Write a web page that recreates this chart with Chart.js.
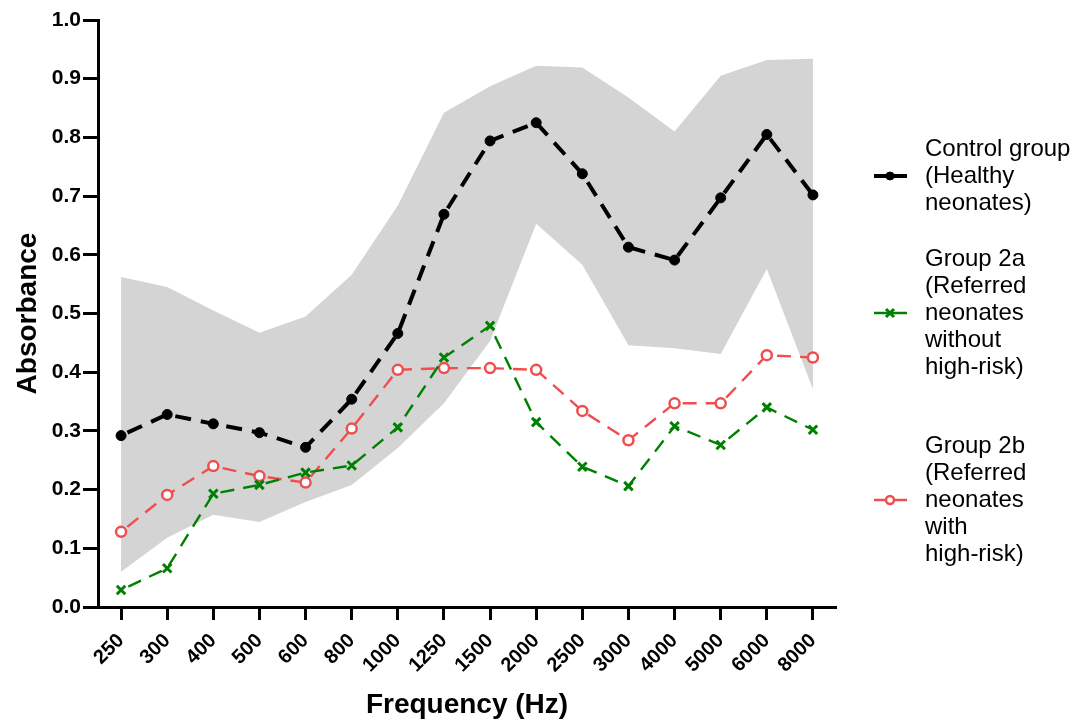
<!DOCTYPE html>
<html>
<head>
<meta charset="utf-8">
<script src="https://cdn.jsdelivr.net/npm/chart.js@4"></script>
<style>
  body { margin: 0; background: #fff; }
  #wrap { width: 1081px; height: 722px; }
</style>
</head>
<body>
<div id="wrap"><canvas id="lineChart"></canvas></div>
<script>
const freqLabels = ['250','300','400','500','600','800','1000','1250','1500','2000','2500','3000','4000','5000','6000','8000'];

const controlMean = [0.292,0.328,0.312,0.297,0.272,0.354,0.466,0.669,0.794,0.825,0.738,0.613,0.591,0.697,0.805,0.702];
const group2a     = [0.029,0.066,0.193,0.208,0.229,0.241,0.306,0.425,0.479,0.315,0.239,0.206,0.308,0.276,0.340,0.302];
const group2b     = [0.128,0.191,0.240,0.223,0.212,0.304,0.404,0.407,0.407,0.404,0.334,0.284,0.347,0.347,0.429,0.425];

// grey band of the control group (upper / lower limits)
const controlUpper = [0.562,0.545,0.505,0.467,0.495,0.566,0.684,0.842,0.887,0.922,0.919,0.868,0.810,0.905,0.932,0.934];
const controlLower = [0.060,0.118,0.157,0.145,0.179,0.208,0.271,0.347,0.453,0.653,0.583,0.446,0.441,0.431,0.576,0.371];

const legendText = [
  ['Control group', '(Healthy', 'neonates)'],
  ['Group 2a', '(Referred', 'neonates', 'without', 'high-risk)'],
  ['Group 2b', '(Referred', 'neonates', 'with', 'high-risk)']
];

const FONT = '"Liberation Sans", Arial, sans-serif';

// legend drawn beside the plot, text wraps over several lines
const sideLegend = {
  id: 'sideLegend',
  afterDraw(chart) {
    const ctx = chart.ctx;
    const right = chart.chartArea.right;
    const top = chart.chartArea.top;
    const markerY = [156, 293, 480];   // offset of each sample line from the plot top
    const lineGap = 27;
    ctx.save();
    ctx.font = '24px ' + FONT;
    ctx.fillStyle = '#000';
    ctx.textBaseline = 'middle';
    legendText.forEach((lines, i) => {
      const ds = chart.data.datasets[i];
      const cy = top + markerY[i];
      const mid = (lines.length - 1) / 2;
      lines.forEach((t, j) => {
        ctx.fillText(t, right + 89, cy + (j - mid) * lineGap);
      });
      // sample line + marker
      ctx.strokeStyle = ds.borderColor;
      ctx.lineWidth = ds.borderWidth;
      ctx.beginPath();
      ctx.moveTo(right + 38, cy);
      ctx.lineTo(right + 71, cy);
      ctx.stroke();
      const mx = right + 54;
      ctx.lineWidth = ds.pointBorderWidth;
      ctx.strokeStyle = ds.pointBorderColor;
      if (ds.pointStyle === 'crossRot') {
        ctx.beginPath();
        ctx.moveTo(mx - 4, cy - 4); ctx.lineTo(mx + 4, cy + 4);
        ctx.moveTo(mx - 4, cy + 4); ctx.lineTo(mx + 4, cy - 4);
        ctx.stroke();
      } else {
        ctx.beginPath();
        ctx.arc(mx, cy, ds.pointRadius - 1, 0, Math.PI * 2);
        ctx.fillStyle = ds.pointBackgroundColor;
        ctx.fill();
        ctx.stroke();
      }
    });
    ctx.restore();
  }
};

const myChart = new Chart(document.getElementById('lineChart'), {
  type: 'line',
  data: {
    labels: freqLabels,
    datasets: [
      {
        label: 'Control group (Healthy neonates)',
        data: controlMean,
        borderColor: '#000',
        borderWidth: 4,
        borderDash: [16, 10],
        borderDashOffset: -7,
        pointStyle: 'circle',
        pointRadius: 5,
        pointBackgroundColor: '#000',
        pointBorderColor: '#000',
        pointBorderWidth: 1,
        fill: false
      },
      {
        label: 'Group 2a (Referred neonates without high-risk)',
        data: group2a,
        borderColor: 'rgb(0,128,0)',
        borderWidth: 2.4,
        borderDash: [14, 9],
        borderDashOffset: -8,
        pointStyle: 'crossRot',
        pointRadius: 6,
        pointBorderColor: 'rgb(0,128,0)',
        pointBackgroundColor: 'rgb(0,128,0)',
        pointBorderWidth: 3,
        fill: false
      },
      {
        label: 'Group 2b (Referred neonates with high-risk)',
        data: group2b,
        borderColor: 'rgb(240,78,78)',
        borderWidth: 2.4,
        borderDash: [14, 9],
        borderDashOffset: -8,
        pointStyle: 'circle',
        pointRadius: 5,
        pointBackgroundColor: '#fff',
        pointBorderColor: 'rgb(240,78,78)',
        pointBorderWidth: 2.5,
        fill: false
      },
      {
        label: 'upper',
        data: controlUpper,
        borderWidth: 0,
        pointRadius: 0,
        backgroundColor: 'rgb(212,212,212)',
        fill: '+1'
      },
      {
        label: 'lower',
        data: controlLower,
        borderWidth: 0,
        pointRadius: 0,
        fill: false
      }
    ]
  },
  options: {
    responsive: true,
    maintainAspectRatio: false,
    animation: false,
    layout: { padding: { top: 20, right: 245, left: 0, bottom: 0 } },
    scales: {
      x: {
        offset: true,
        grid: { display: true, drawOnChartArea: false, offset: false, tickLength: 13, tickWidth: 3, tickColor: '#000' },
        border: { color: '#000', width: 3 },
        ticks: {
          color: '#000',
          font: { family: FONT, size: 20, weight: 'bold' },
          maxRotation: 45,
          minRotation: 45,
          padding: 9
        },
        title: {
          display: true,
          text: 'Frequency (Hz)',
          color: '#000',
          font: { family: FONT, size: 28, weight: 'bold' },
          padding: { top: 0, bottom: 0 }
        },
        afterFit(scale) { scale.height = 115; }
      },
      y: {
        min: 0,
        max: 1,
        grid: { display: true, drawOnChartArea: false, tickLength: 15, tickWidth: 3, tickColor: '#000' },
        border: { color: '#000', width: 3 },
        ticks: {
          stepSize: 0.1,
          color: '#000',
          font: { family: FONT, size: 21, weight: 'bold' },
          padding: 2,
          callback: v => v.toFixed(1)
        },
        title: {
          display: true,
          text: 'Absorbance',
          color: '#000',
          font: { family: FONT, size: 28, weight: 'bold' },
          padding: { top: 11, bottom: 0 }
        },
        afterFit(scale) { scale.width = 98; }
      }
    },
    plugins: {
      legend: { display: false },
      tooltip: { enabled: false }
    }
  },
  plugins: [sideLegend]
});
</script>
</body>
</html>
